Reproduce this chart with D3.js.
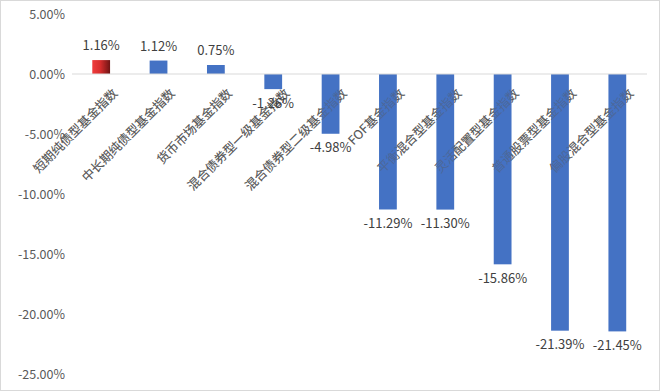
<!DOCTYPE html>
<html>
<head>
<meta charset="utf-8">
<script src="https://cdn.jsdelivr.net/npm/d3@7"></script>
<style>
  body { margin: 0; background: #fff; }
  text { font-family: "Noto Sans CJK SC", "Noto Sans", sans-serif; }
</style>
</head>
<body>
<div id="chart"></div>
<script>
// chart data
var categories = [
  "短期纯债型基金指数", "中长期纯债型基金指数", "货币市场基金指数",
  "混合债券型一级基金指数", "混合债券型二级基金指数", "FOF基金指数",
  "平衡混合型基金指数", "灵活配置型基金指数", "普通股票型基金指数",
  "偏股混合型基金指数"
];
var values = [1.16, 1.12, 0.75, -1.26, -4.98, -11.29, -11.30, -15.86, -21.39, -21.45];
var yTicks = [5, 0, -5, -10, -15, -20, -25];

var svgWidth = 660, svgHeight = 392;

// percent with a plain hyphen, like the excel original
var pct = d => d.toFixed(2) + "%";

var svg = d3.select("#chart").append("svg")
  .attr("width", svgWidth)
  .attr("height", svgHeight);

// outer border
svg.append("rect")
  .attr("x", 0.5).attr("y", 0.5)
  .attr("width", svgWidth - 1).attr("height", svgHeight - 2)
  .attr("fill", "#fff")
  .attr("stroke", "#d9d9d9");

// gradient for the first bar
var grad = svg.append("defs").append("linearGradient")
  .attr("id", "redGrad")
  .attr("x1", "0%").attr("x2", "100%").attr("y1", "0%").attr("y2", "0%");
grad.append("stop").attr("offset", "0%").attr("stop-color", "#f03c3c");
grad.append("stop").attr("offset", "45%").attr("stop-color", "#d62d2d");
grad.append("stop").attr("offset", "100%").attr("stop-color", "#6e1414");

var xScale = d3.scaleBand()
  .domain(categories)
  .range([72.5, 646])
  .paddingInner(0.69)
  .paddingOuter(0.345);

var yScale = d3.scaleLinear()
  .domain([-25, 5])
  .range([374, 14]);

// y axis labels
var yAxis = d3.axisLeft(yScale)
  .tickValues(yTicks)
  .tickSize(0)
  .tickPadding(0)
  .tickFormat(pct);

var yG = svg.append("g")
  .attr("transform", "translate(65,0)")
  .call(yAxis);
yG.select(".domain").remove();
yG.selectAll("text")
  .attr("fill", "#595959")
  .attr("font-size", "12.5px")
  .style("font-family", "'Noto Sans CJK SC', sans-serif");

// category labels
function drawLabels(opacity) {
  svg.append("g").selectAll("text")
    .data(categories)
    .enter()
    .append("text")
    .attr("transform", d => `translate(${xScale(d) + xScale.bandwidth() / 2 + 14}, 91) rotate(-45)`)
    .attr("text-anchor", "end")
    .attr("dy", "0.35em")
    .attr("font-size", "12.5px")
    .attr("fill", "#595959")
    .attr("opacity", opacity)
    .text(d => d);
}
drawLabels(1);

// bars
svg.append("g").selectAll("rect")
  .data(values)
  .enter()
  .append("rect")
  .attr("x", (d, i) => xScale(categories[i]))
  .attr("width", xScale.bandwidth())
  .attr("y", d => yScale(Math.max(0, d)))
  .attr("height", d => Math.abs(yScale(d) - yScale(0)))
  .attr("fill", (d, i) => i === 0 ? "url(#redGrad)" : "#4472c4");

// labels show faintly through the bars
drawLabels(0.4);

// zero line
svg.append("line")
  .attr("x1", 72).attr("x2", 647)
  .attr("y1", yScale(0)).attr("y2", yScale(0))
  .attr("stroke", "#d9d9d9")
  .attr("stroke-width", 1);

// value labels
svg.append("g").selectAll("text")
  .data(values)
  .enter()
  .append("text")
  .attr("x", (d, i) => xScale(categories[i]) + xScale.bandwidth() / 2)
  .attr("y", d => d >= 0 ? yScale(d) - 10 : yScale(d) + 18.5)
  .attr("text-anchor", "middle")
  .attr("font-size", "13px")
  .attr("fill", "#404040")
  .text(pct);
</script>
</body>
</html>
